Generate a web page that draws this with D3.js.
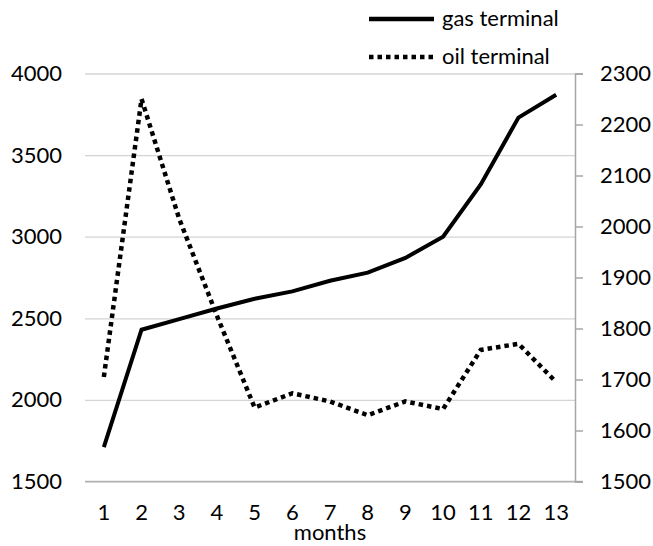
<!DOCTYPE html>
<html>
<head>
<meta charset="utf-8">
<script src="https://cdn.jsdelivr.net/npm/d3@7"></script>
<style>
  body { margin: 0; background: #fff; }
  text { font-family: Lato, "Open Sans", sans-serif; fill: #000; }
</style>
</head>
<body>
<svg id="chart" width="653" height="546"></svg>
<script>
// chart data
const months = ['1', '2', '3', '4', '5', '6', '7', '8', '9', '10', '11', '12', '13'];
const gasTerminal = [1710, 2430, 2495, 2560, 2620, 2665, 2730, 2780, 2870, 3000, 3320, 3730, 3870];
const oilTerminal = [1705, 2250, 2015, 1825, 1645, 1673, 1657, 1630, 1657, 1642, 1758, 1770, 1695];
const leftTicks = [1500, 2000, 2500, 3000, 3500, 4000];
const rightTicks = [1500, 1600, 1700, 1800, 1900, 2000, 2100, 2200, 2300];

const svg = d3.select('#chart');

// plot area
const plot = {left: 85, right: 575, top: 73.5, bottom: 481.5};
const fontSize = 22;

const x = d3.scaleBand().domain(months).range([plot.left, plot.right]);
const yLeft = d3.scaleLinear().domain([1500, 4000]).range([plot.bottom, plot.top]);
const yRight = d3.scaleLinear().domain([1500, 2300]).range([plot.bottom, plot.top]);
const cx = d => x(d) + x.bandwidth() / 2;

// horizontal gridlines
svg.append('g')
    .attr('transform', `translate(${plot.left}, 0)`)
    .call(d3.axisLeft(yLeft).tickValues(leftTicks).tickSize(-(plot.right - plot.left)).tickFormat(''))
    .call(g => g.select('.domain').remove())
    .selectAll('line')
    .attr('stroke', '#d4d4d4')
    .attr('stroke-width', 1.3);

// bottom axis line
svg.append('line')
    .attr('x1', plot.left).attr('x2', plot.right + 8)
    .attr('y1', plot.bottom).attr('y2', plot.bottom)
    .attr('stroke', '#b3b3b3')
    .attr('stroke-width', 1.5);

// left labels
svg.append('g')
    .attr('transform', `translate(62, 0)`)
    .call(d3.axisLeft(yLeft).tickValues(leftTicks).tickSize(0).tickPadding(0).tickFormat(d3.format('d')))
    .call(g => g.select('.domain').remove())
    .selectAll('text')
    .style('font-size', fontSize + 'px')
    .attr('fill', '#000');

// right axis
svg.append('g')
    .attr('transform', `translate(${plot.right}, 0)`)
    .call(d3.axisRight(yRight).tickValues(rightTicks).tickSize(8).tickPadding(17).tickFormat(d3.format('d')))
    .call(g => g.select('.domain').attr('stroke', '#a6a6a6').attr('stroke-width', 1.5))
    .call(g => g.selectAll('line').attr('stroke', '#a6a6a6').attr('stroke-width', 1.5))
    .selectAll('text')
    .style('font-size', fontSize + 'px')
    .attr('fill', '#000');

// x labels
svg.append('g')
    .attr('transform', `translate(0, ${plot.bottom})`)
    .call(d3.axisBottom(x).tickSize(0).tickPadding(23))
    .call(g => g.select('.domain').remove())
    .selectAll('text')
    .style('font-size', fontSize + 'px')
    .attr('fill', '#000');

svg.append('text')
    .attr('x', (plot.left + plot.right) / 2)
    .attr('y', 540)
    .attr('text-anchor', 'middle')
    .style('font-size', fontSize + 'px')
    .text('months');

// lines
const gasLine = d3.line().x((d, i) => cx(months[i])).y(d => yLeft(d));
const oilLine = d3.line().x((d, i) => cx(months[i])).y(d => yRight(d));

svg.append('path')
    .datum(gasTerminal)
    .attr('d', gasLine)
    .attr('fill', 'none')
    .attr('stroke', '#000')
    .attr('stroke-width', 4);

svg.append('path')
    .datum(oilTerminal)
    .attr('d', oilLine)
    .attr('fill', 'none')
    .attr('stroke', '#000')
    .attr('stroke-width', 4.5)
    .attr('stroke-dasharray', '4.5,4');

// legend
const legend = [
    {name: 'gas terminal', dash: null, y: 19},
    {name: 'oil terminal', dash: '4.5,4', y: 57}
];
const lg = svg.append('g');
legend.forEach(d => {
    lg.append('line')
        .attr('x1', 369).attr('x2', 434)
        .attr('y1', d.y).attr('y2', d.y)
        .attr('stroke', '#000')
        .attr('stroke-width', 4.5)
        .attr('stroke-dasharray', d.dash);
    lg.append('text')
        .attr('x', 442)
        .attr('y', d.y)
        .attr('dy', '0.32em')
        .style('font-size', fontSize + 'px')
        .text(d.name);
});
</script>
</body>
</html>
